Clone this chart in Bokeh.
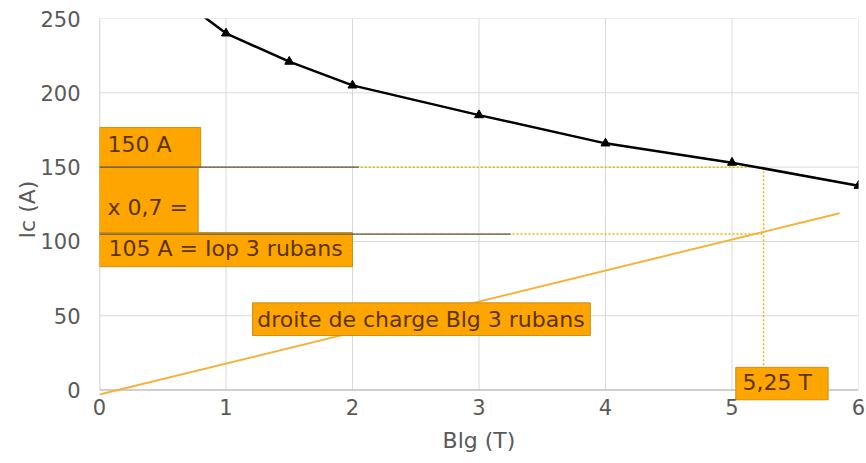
from bokeh.plotting import figure
from bokeh.models import Range1d, FixedTicker
from bokeh.core.properties import value
from bokeh.embed import file_html
from bokeh.resources import INLINE

# ---- data ----
blg_t = [0.5, 1, 1.5, 2, 3, 4, 5, 6]
ic_a = [272, 240, 221, 205, 185, 166, 153, 137.5]
load_blg = [0, 5.85]
load_ic = [-3, 119]
ic_crit = 150
iop = 105
b_op = 5.25
x_ticks = [0, 1, 2, 3, 4, 5, 6]
y_ticks = [0, 50, 100, 150, 200, 250]

# annotation boxes (left, right, bottom, top) and their texts
box_left = [0, 0, 0, 1.21, 5.03]
box_right = [0.80, 0.78, 2.0, 3.88, 5.76]
box_bottom = [150, 105, 83, 36.7, -6.7]
box_top = [176.7, 150, 106, 58.7, 15.3]
txt = ["150 A", "x 0,7 =", "105 A = Iop 3 rubans", "droite de charge Blg 3 rubans", "5,25 T"]
txt_x = [0.063, 0.063, 0.071, 1.247, 5.083]
txt_y = [165.3, 122.7, 95.3, 47.3, 5.3]

FONT = "DejaVu Sans"
ORANGE = "#FFA500"
GREY_TXT = "#595959"

p = figure(width=866, height=455, x_range=Range1d(0, 6), y_range=Range1d(-7, 250),
           output_backend="svg", toolbar_location=None,
           min_border_left=99, min_border_right=8, min_border_top=18, min_border_bottom=51)
p.outline_line_color = None
p.grid.grid_line_color = None

# gridlines
p.segment(x0=x_ticks[1:], y0=y_ticks[0], x1=x_ticks[1:], y1=y_ticks[-1], line_color="#D9D9D9", line_width=1)
p.segment(x0=x_ticks[0], y0=y_ticks[1:], x1=x_ticks[-1], y1=y_ticks[1:], line_color="#D9D9D9", line_width=1)
# axis lines
p.segment(x0=[x_ticks[0], x_ticks[0]], y0=[y_ticks[0], y_ticks[0]],
          x1=[x_ticks[0], x_ticks[-1]], y1=[y_ticks[-1], y_ticks[0]],
          line_color="#BFBFBF", line_width=1.5)

# dotted construction lines
p.line([box_right[0], b_op], [ic_crit, ic_crit], line_color="#E6B800", line_width=1.5, line_dash="2 2")
p.line([box_right[2], b_op], [iop, iop], line_color="#E6B800", line_width=1.5, line_dash="2 2")
p.line([b_op, b_op], [ic_crit, box_top[4]], line_color="#E6B800", line_width=1.5, line_dash="2 2")

# load line
p.line(load_blg, load_ic, line_color="#F3B33D", line_width=2)

# boxes
p.quad(left=box_left, right=box_right, bottom=box_bottom, top=box_top,
       fill_color=ORANGE, line_color="#C8901A", line_width=1)

# dark leader lines
p.line([0, 2.05], [ic_crit, ic_crit], line_color="#5a5a5a", line_width=1.2)
p.line([0, 3.25], [iop, iop], line_color="#5a5a5a", line_width=1.2)

p.text(x=txt_x, y=txt_y, text=txt, text_font=value(FONT), text_font_size="22px",
       text_color="#5a3500", text_baseline="middle", text_align="left")

# Ic curve
p.line(blg_t, ic_a, line_color="black", line_width=2.5)
p.scatter(blg_t, ic_a, marker="triangle", size=9, color="black")

# axes
for ax in (p.xaxis[0], p.yaxis[0]):
    ax.axis_line_color = None
    ax.major_tick_line_color = None
    ax.minor_tick_line_color = None
    ax.major_tick_out = 0
    ax.major_tick_in = 0
    ax.major_label_text_font = FONT
    ax.major_label_text_font_size = "21px"
    ax.major_label_text_color = GREY_TXT
    ax.axis_label_text_font = FONT
    ax.axis_label_text_font_size = "22px"
    ax.axis_label_text_color = GREY_TXT
    ax.axis_label_text_font_style = "normal"

p.xaxis.ticker = FixedTicker(ticks=x_ticks)
p.yaxis.ticker = FixedTicker(ticks=y_ticks)
p.xaxis.axis_label = "Blg (T)"
p.yaxis.axis_label = "Ic (A)"
p.xaxis.major_label_standoff = -2
p.xaxis.axis_label_standoff = 10
p.yaxis.major_label_standoff = 19
p.yaxis.axis_label_standoff = -3

open("out.html", "w").write(file_html(p, INLINE))
